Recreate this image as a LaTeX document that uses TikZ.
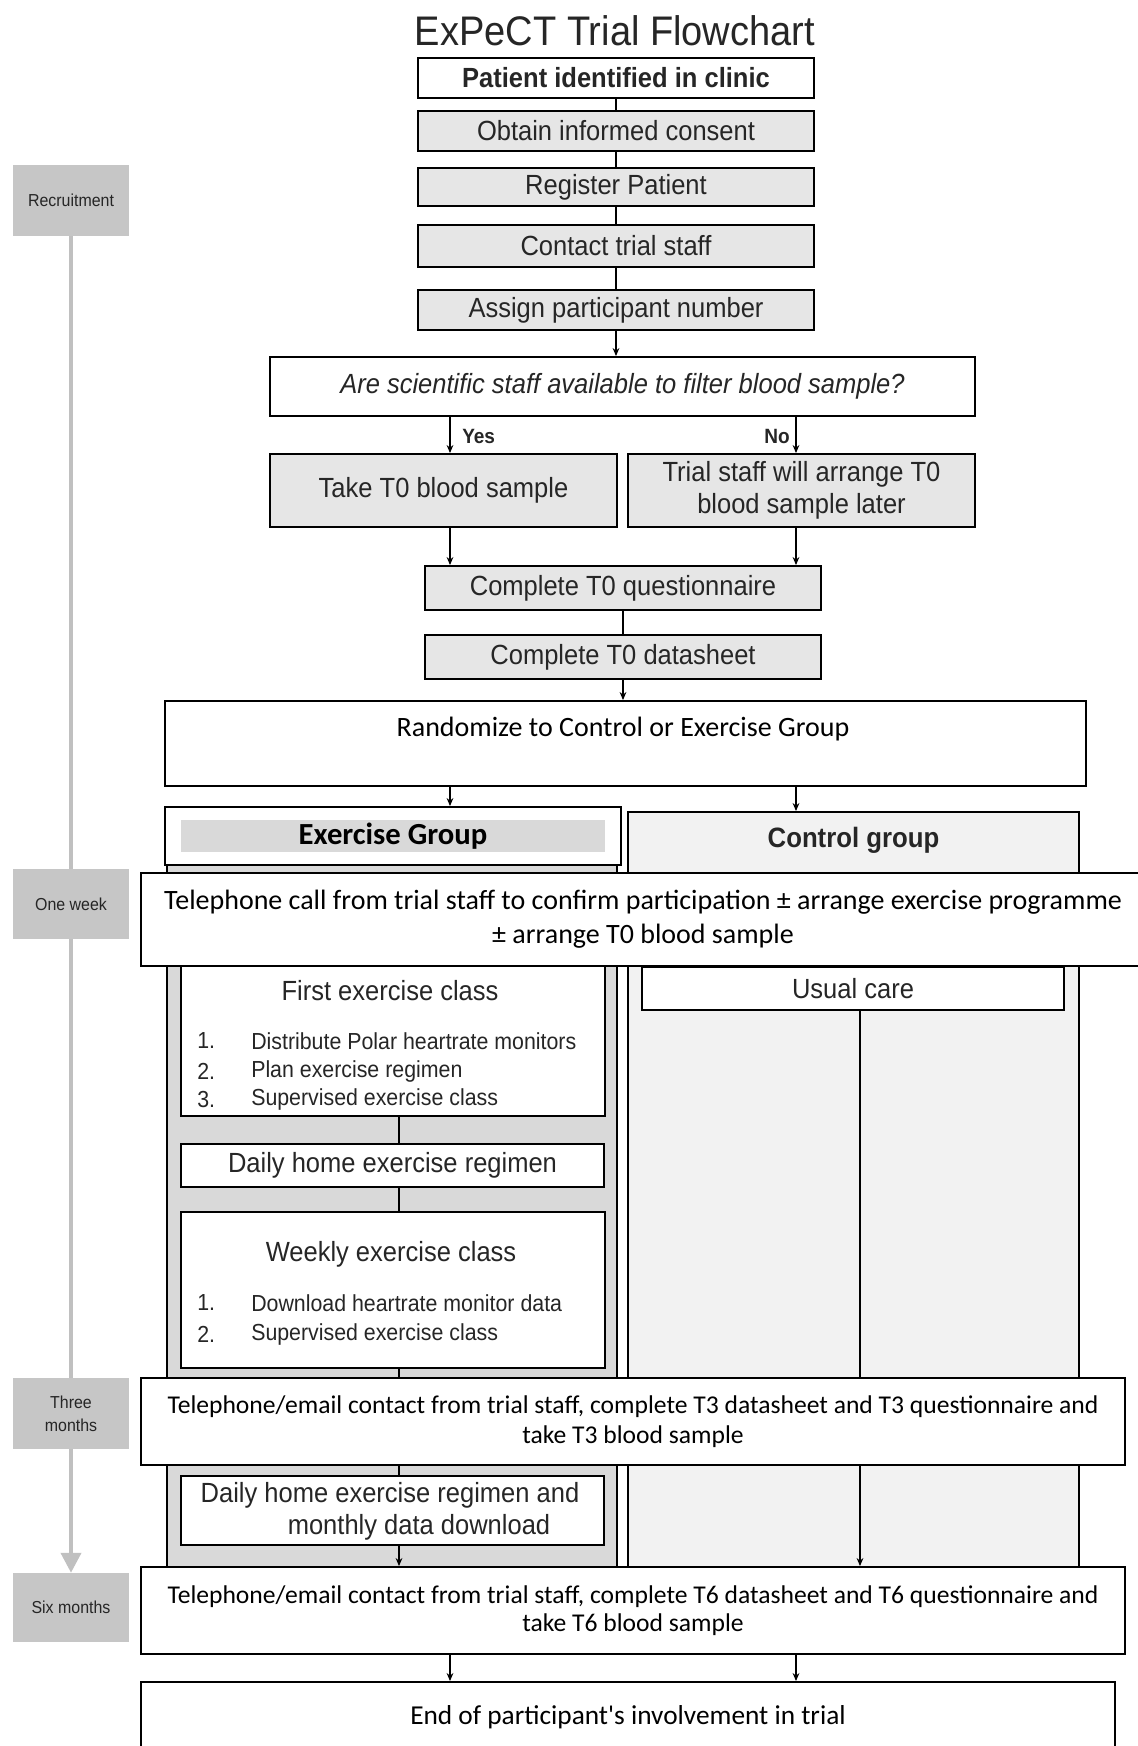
\documentclass[tikz,border=0pt]{standalone}
\usepackage{fontspec}
\setmainfont{Liberation Sans}[FakeStretch=0.92]
\newfontfamily\calib{Carlito}
\usetikzlibrary{arrows.meta,calc}
\definecolor{txt}{HTML}{262626}
\definecolor{boxgray}{HTML}{E6E6E6}
\definecolor{exfill}{HTML}{D9D9D9}
\definecolor{ctfill}{HTML}{F2F2F2}
\definecolor{tlgray}{HTML}{C6C6C6}
\definecolor{tlline}{HTML}{C0C0C0}
\newcommand\fs[2]{\fontsize{#1}{#2}\selectfont}
\begin{document}
\begin{tikzpicture}[x=0.75pt,y=-0.75pt,
  sz/.style 2 args={minimum width=#1*0.75pt, minimum height=#2*0.75pt},
  box/.style={draw=black, line width=1.4pt, inner sep=0pt, text=txt, font=\fs{20.8}{24}, align=center},
  gbox/.style={box, fill=boxgray},
  wbox/.style={box, fill=white},
  plain/.style={inner sep=0pt, text=txt, font=\fs{20.8}{24}, align=center},
  calt/.style={inner sep=0pt, text=black, font=\calib\fs{21}{24}, align=center},
  itm/.style={inner sep=0pt, text=txt, font=\fs{17.4}{20}, anchor=west},
  tl/.style={fill=tlgray, inner sep=0pt, text=txt, font=\fs{13}{17}, align=center, minimum width=116*0.75pt},
  conn/.style={draw=black, line width=1.2pt},
  arr/.style={conn, -{Stealth[length=6pt,width=5pt]}},
  tlconn/.style={draw=tlline, line width=3pt},
]
\useasboundingbox (0,0) rectangle (1138,1746);
\clip (0,0) rectangle (1138,1746);
\fill[white] (0,0) rectangle (1138,1746);

\coordinate (L) at (450,0);
\coordinate (R) at (796,0);
\coordinate (E) at (399,0);
\coordinate (U) at (860,0);

% title
\node[plain, font=\fs{31}{36}] (title) at (615,31) {ExPeCT Trial Flowchart};

% recruitment chain
\node[wbox, sz={396}{40}, font=\bfseries\fs{20.8}{24}] (pat) at (616,78) {Patient identified in clinic};
\node[gbox, sz={396}{40}] (con) at (616,131) {Obtain informed consent};
\node[gbox, sz={396}{38}] (reg) at (616,187) {Register Patient};
\node[gbox, sz={396}{42}] (cts) at (616,246) {Contact trial staff};
\node[gbox, sz={396}{40}] (asg) at (616,310) {Assign participant number};
\draw[conn] (pat) -- (con);
\draw[conn] (con) -- (reg);
\draw[conn] (reg) -- (cts);
\draw[conn] (cts) -- (asg);

\node[wbox, sz={705}{59}, font=\itshape\fs{20.8}{24}] (q) at (622.5,386.5) {Are scientific staff available to filter blood sample?};
\draw[arr] (asg.south) -- (asg.south |- q.north);

\node[gbox, sz={347}{73}] (take) at (443.5,490.5) {Take T0 blood sample};
\node[gbox, sz={347}{73}] (later) at (801.5,490.5) {Trial staff will arrange T0\\blood sample later};
\draw[arr] (q.south -| L) -- (take.north -| L);
\draw[arr] (q.south -| R) -- (later.north -| R);
\node[plain, font=\bfseries\fs{15.5}{18}, anchor=west] (yes) at (462,436) {Yes};
\node[plain, font=\bfseries\fs{15.5}{18}, anchor=east] (no) at (790,436) {No};

\node[gbox, sz={396}{44}] (q0) at (623,588) {Complete T0 questionnaire};
\node[gbox, sz={396}{44}] (ds) at (623,657) {Complete T0 datasheet};
\draw[arr] (take.south -| L) -- (q0.north -| L);
\draw[arr] (later.south -| R) -- (q0.north -| R);
\draw[conn] (q0) -- (ds);

\node[wbox, sz={921}{85}] (rand) at (625.5,743.5) {};
\node[calt] (randt) at (623,729) {Randomize to Control or Exercise Group};
\draw[arr] (ds.south) -- (ds.south |- rand.north);

% group columns
\node[box, fill=exfill, sz={450}{785}] (excol) at (392,1257.5) {};
\node[box, fill=ctfill, sz={451}{838}] (ctcol) at (853.5,1231) {};
\node[wbox, sz={456}{58}] (exh) at (393,836) {};
\fill[exfill] (181,820) rectangle (605,852);
\node[calt, font=\calib\bfseries\fs{23}{26}] (exht) at (393,836) {Exercise Group};
\node[plain, font=\bfseries\fs{21}{24}] (cth) at (853.5,840) {Control group};
\draw[arr] (rand.south -| L) -- (exh.north -| L);
\draw[arr] (rand.south -| R) -- (ctcol.north -| R);

% one week
\node[wbox, sz={1004}{93}, font=\calib\fs{21}{25.5}, text=black] (tel) at (643,919.5) {Telephone call from trial staff to confirm participation ± arrange exercise programme\\± arrange T0 blood sample};

% exercise group boxes
\node[wbox, sz={424}{150}] (fec) at (393,1041) {};
\node[plain] (fect) at (390,991) {First exercise class};
\node[itm] (n1) at (197,1041) {1.};
\node[itm] (i1) at (251,1041) {Distribute Polar heartrate monitors};
\node[itm] (n2) at (197,1071) {2.};
\node[itm] (i2) at (251,1071) {Plan exercise regimen};
\node[itm] (n3) at (197,1099) {3.};
\node[itm] (i3) at (251,1099) {Supervised exercise class};

\node[wbox, sz={423}{43}] (dh) at (392.5,1165.5) {Daily home exercise regimen};

\node[wbox, sz={424}{156}] (wk) at (393,1290) {};
\node[plain] (wkt) at (391,1254) {Weekly exercise class};
\node[itm] (m1) at (197,1303) {1.};
\node[itm] (j1) at (251,1303) {Download heartrate monitor data};
\node[itm] (m2) at (197,1334) {2.};
\node[itm] (j2) at (251,1334) {Supervised exercise class};

\node[wbox, sz={422}{43}] (uc) at (853,988.5) {Usual care};

\draw[conn] (fec.south -| E) -- (dh.north -| E);
\draw[conn] (dh.south -| E) -- (wk.north -| E);

% three months
\node[wbox, sz={984}{87}, font=\calib\fs{19.2}{22.5}, text=black] (t3) at (633,1421.5) {Telephone/email contact from trial staff, complete T3 datasheet and T3 questionnaire and\\take T3 blood sample};
\draw[conn] (wk.south -| E) -- (t3.north -| E);
\draw[conn] (uc.south -| U) -- (t3.north -| U);

\node[wbox, sz={423}{69}] (dhm) at (392.5,1510.5) {};
\node[plain] (dhm1) at (390,1495) {Daily home exercise regimen and};
\node[plain] (dhm2) at (419,1527) {monthly data download};
\draw[conn] (t3.south -| E) -- (dhm.north -| E);

% six months
\node[wbox, sz={984}{87}, font=\calib\fs{19.2}{21}, text=black] (t6) at (633,1610.5) {Telephone/email contact from trial staff, complete T6 datasheet and T6 questionnaire and\\take T6 blood sample};
\draw[arr] (dhm.south -| E) -- (t6.north -| E);
\draw[arr] (t3.south -| U) -- (t6.north -| U);

\node[wbox, sz={974}{90}] (end) at (628,1727) {};
\node[calt, font=\calib\fs{20.5}{24}] (endt) at (628,1717) {End of participant's involvement in trial};
\draw[arr] (t6.south -| L) -- (end.north -| L);
\draw[arr] (t6.south -| R) -- (end.north -| R);

% timeline
\node[tl, minimum height=71*0.75pt] (rec) at (71,200.5) {Recruitment};
\node[tl, minimum height=70*0.75pt] (ow) at (71,904) {One week};
\node[tl, minimum height=71*0.75pt] (tm) at (71,1413.5) {Three\\months};
\node[tl, minimum height=69*0.75pt] (sm) at (71,1607.5) {Six months};
\draw[tlconn] (rec) -- (ow);
\draw[tlconn] (ow) -- (tm);
\draw[tlconn, -{Triangle[length=15pt,width=15pt]}] (tm) -- (sm);
\end{tikzpicture}
\end{document}
